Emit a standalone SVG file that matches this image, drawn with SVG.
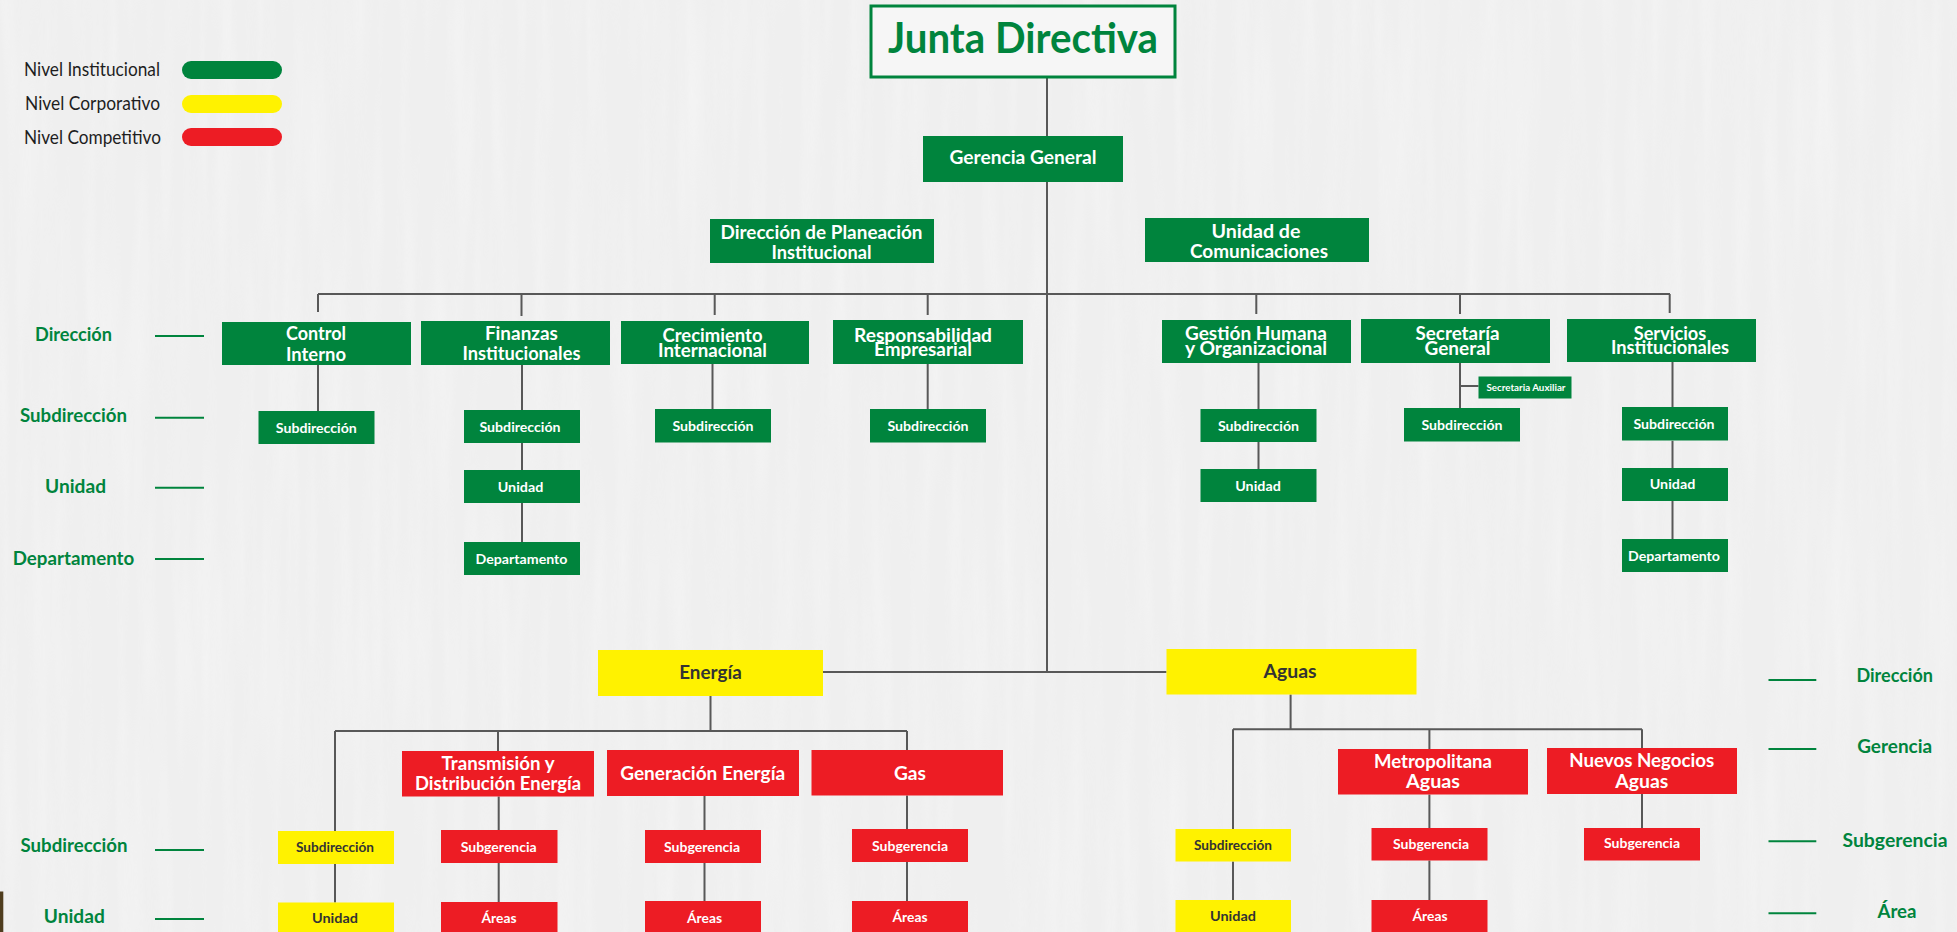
<svg xmlns="http://www.w3.org/2000/svg" width="1957" height="932" viewBox="0 0 1957 932">
  <defs>
    <filter id="paper" x="0" y="0" width="100%" height="100%">
      <feTurbulence type="fractalNoise" baseFrequency="0.06 0.004" numOctaves="3" seed="7" result="n"/>
      <feColorMatrix in="n" type="matrix" values="0 0 0 0 1  0 0 0 0 1  0 0 0 0 1  0 0 0 0.9 -0.35"/>
    </filter>
    <style>
      .bg { fill: #efefef; }
      .ln { stroke: #585858; stroke-width: 2; fill: none; }
      .tick { stroke: #00843d; stroke-width: 2; }
      .g { fill: #00843d; }
      .y { fill: #fff200; }
      .r { fill: #ed1c24; }
      text { font-family: Lato, "Liberation Sans", Arial, sans-serif; font-weight: 700; text-anchor: middle; }
      .w { fill: #ffffff; }
      .k { fill: #333333; }
      .t18 { font-size: 18.5px; }
      .t14 { font-size: 14px; }
      .lab { fill: #00843d; font-size: 18px; }
      .leg { fill: #1e1e1e; font-size: 19px; font-weight: 400; text-anchor: start; }
    </style>
  </defs>

  <!-- paper background -->
  <rect class="bg" x="0" y="0" width="1957" height="932"/>
  <rect x="0" y="0" width="1957" height="932" filter="url(#paper)" opacity="0.55"/>
  <rect x="0" y="891.5" width="3.3" height="41" fill="#4f3d1e"/>

  <!-- legend -->
  <g id="legend">
    <text class="leg" x="24" y="76" textLength="136" lengthAdjust="spacingAndGlyphs">Nivel Institucional</text>
    <text class="leg" x="25" y="110" textLength="135" lengthAdjust="spacingAndGlyphs">Nivel Corporativo</text>
    <text class="leg" x="24" y="144" textLength="137" lengthAdjust="spacingAndGlyphs">Nivel Competitivo</text>
    <rect class="g" x="182" y="61" width="100" height="18" rx="9"/>
    <rect class="y" x="182" y="95" width="100" height="18" rx="9"/>
    <rect class="r" x="182" y="128" width="100" height="18" rx="9"/>
  </g>

  <!-- level scales -->
  <g id="scale-left">
    <text class="lab" x="73.5" y="340.7" textLength="77" lengthAdjust="spacingAndGlyphs">Dirección</text>
    <text class="lab" x="73.5" y="421.7" textLength="107" lengthAdjust="spacingAndGlyphs">Subdirección</text>
    <text class="lab" x="75.5" y="492.7" textLength="61" lengthAdjust="spacingAndGlyphs">Unidad</text>
    <text class="lab" x="73.5" y="565" textLength="121.5" lengthAdjust="spacingAndGlyphs">Departamento</text>
    <text class="lab" x="74" y="852.3" textLength="107" lengthAdjust="spacingAndGlyphs">Subdirección</text>
    <text class="lab" x="74.3" y="923.3" textLength="61" lengthAdjust="spacingAndGlyphs">Unidad</text>
    <line class="tick" x1="155" y1="336" x2="204" y2="336"/>
    <line class="tick" x1="155" y1="417.7" x2="204" y2="417.7"/>
    <line class="tick" x1="155" y1="487.7" x2="204" y2="487.7"/>
    <line class="tick" x1="155" y1="559" x2="204" y2="559"/>
    <line class="tick" x1="155" y1="850" x2="204" y2="850"/>
    <line class="tick" x1="155" y1="919" x2="204" y2="919"/>
  </g>
  <g id="scale-right">
    <line class="tick" x1="1768.5" y1="680" x2="1816.3" y2="680"/>
    <line class="tick" x1="1768.5" y1="749" x2="1816.3" y2="749"/>
    <line class="tick" x1="1768.5" y1="841.3" x2="1816.3" y2="841.3"/>
    <line class="tick" x1="1768.5" y1="913.3" x2="1816.3" y2="913.3"/>
    <text class="lab" x="1894.7" y="682.3" textLength="76.6" lengthAdjust="spacingAndGlyphs">Dirección</text>
    <text class="lab" x="1894.7" y="753.3" textLength="75" lengthAdjust="spacingAndGlyphs">Gerencia</text>
    <text class="lab" x="1895" y="846.7" textLength="105" lengthAdjust="spacingAndGlyphs">Subgerencia</text>
    <text class="lab" x="1897" y="918.3" textLength="39" lengthAdjust="spacingAndGlyphs">Área</text>
  </g>

  <!-- connectors -->
  <g id="connectors">
    <!-- trunk -->
    <path class="ln" d="M1047 77 V672"/>
    <path class="ln" d="M823 672 H1166.5"/>
    <!-- institutional bus -->
    <path class="ln" d="M318 294 H1670"/>
    <path class="ln" d="M318 294 V312 M521.5 294 V316 M714.7 294 V315 M927.7 294 V315 M1256.3 294 V314 M1460 294 V314 M1669.7 294 V313"/>
    <path class="ln" d="M318 365 V411"/>
    <path class="ln" d="M522 365 V410 M522 443 V470 M522 503 V542"/>
    <path class="ln" d="M712.5 364 V409"/>
    <path class="ln" d="M927.7 364 V409"/>
    <path class="ln" d="M1258.5 363 V409 M1258.5 442 V469"/>
    <path class="ln" d="M1460 363 V408 M1460 386 H1478.5"/>
    <path class="ln" d="M1672.5 362 V407 M1672.5 440.7 V468 M1672.5 501 V539"/>
    <!-- energy -->
    <path class="ln" d="M710.5 696 V731 M335 731 H907"/>
    <path class="ln" d="M335 731 V831 M498 731 V751 M907 731 V750"/>
    <path class="ln" d="M335 864 V902.5"/>
    <path class="ln" d="M498.7 796.5 V830 M498.7 863 V902"/>
    <path class="ln" d="M704.5 796 V830 M704.5 863 V901"/>
    <path class="ln" d="M907 795.5 V829 M907 862 V901"/>
    <!-- water -->
    <path class="ln" d="M1290.6 694.5 V729.3 M1233 729.3 H1642"/>
    <path class="ln" d="M1233 729.3 V829 M1429.4 729.3 V749 M1642 729.3 V748"/>
    <path class="ln" d="M1233 861.5 V900"/>
    <path class="ln" d="M1429.4 794.5 V828 M1429.4 860.5 V900"/>
    <path class="ln" d="M1642 794 V828"/>
  </g>

  <!-- institutional level -->
  <g id="junta-directiva">
    <rect x="871" y="6" width="304" height="71" fill="#f6f6f6" stroke="#00843d" stroke-width="3"/>
    <text x="1023" y="53" fill="#00843d" font-size="42" textLength="270" lengthAdjust="spacingAndGlyphs">Junta Directiva</text>
  </g>
  <g id="gerencia-general">
    <rect class="g" x="923" y="136" width="200" height="46"/>
    <text class="w t18" x="1023" y="164" textLength="147" lengthAdjust="spacingAndGlyphs">Gerencia General</text>
  </g>
  <g id="direccion-planeacion">
    <rect class="g" x="710" y="219" width="224" height="44"/>
    <text class="w t18" x="821.5" y="239" textLength="202" lengthAdjust="spacingAndGlyphs">Dirección de Planeación</text>
    <text class="w t18" x="821.5" y="259" textLength="100" lengthAdjust="spacingAndGlyphs">Institucional</text>
  </g>
  <g id="unidad-comunicaciones">
    <rect class="g" x="1145" y="218" width="224" height="44"/>
    <text class="w t18" x="1256" y="238" textLength="89" lengthAdjust="spacingAndGlyphs">Unidad de</text>
    <text class="w t18" x="1259" y="258" textLength="138" lengthAdjust="spacingAndGlyphs">Comunicaciones</text>
  </g>

  <g id="control-interno">
    <rect class="g" x="222" y="322" width="189" height="43"/>
    <text class="w t18" x="316" y="340" textLength="60" lengthAdjust="spacingAndGlyphs">Control</text>
    <text class="w t18" x="316" y="361" textLength="60" lengthAdjust="spacingAndGlyphs">Interno</text>
  </g>
  <g id="control-subdireccion">
    <rect class="g" x="258.5" y="411" width="116" height="33"/>
    <text class="w t14" x="316.3" y="432.7" textLength="81" lengthAdjust="spacingAndGlyphs">Subdirección</text>
  </g>

  <g id="finanzas">
    <rect class="g" x="421" y="321" width="189" height="44"/>
    <text class="w t18" x="521.4" y="340" textLength="73" lengthAdjust="spacingAndGlyphs">Finanzas</text>
    <text class="w t18" x="521.4" y="360" textLength="118" lengthAdjust="spacingAndGlyphs">Institucionales</text>
  </g>
  <g id="finanzas-subdireccion">
    <rect class="g" x="464" y="410" width="116" height="33"/>
    <text class="w t14" x="520" y="432.3" textLength="81" lengthAdjust="spacingAndGlyphs">Subdirección</text>
  </g>
  <g id="finanzas-unidad">
    <rect class="g" x="464" y="470" width="116" height="33"/>
    <text class="w t14" x="520.5" y="492.3" textLength="45.5" lengthAdjust="spacingAndGlyphs">Unidad</text>
  </g>
  <g id="finanzas-departamento">
    <rect class="g" x="464" y="542" width="116" height="33"/>
    <text class="w t14" x="521.5" y="564" textLength="92" lengthAdjust="spacingAndGlyphs">Departamento</text>
  </g>

  <g id="crecimiento">
    <rect class="g" x="621" y="321" width="188" height="43"/>
    <text class="w t18" x="712.5" y="341.5" textLength="100" lengthAdjust="spacingAndGlyphs">Crecimiento</text>
    <text class="w t18" x="712.5" y="356.5" textLength="109" lengthAdjust="spacingAndGlyphs">Internacional</text>
  </g>
  <g id="crecimiento-subdireccion">
    <rect class="g" x="655" y="409" width="116" height="33.5"/>
    <text class="w t14" x="713" y="430.7" textLength="81" lengthAdjust="spacingAndGlyphs">Subdirección</text>
  </g>

  <g id="responsabilidad">
    <rect class="g" x="833" y="320" width="190" height="44"/>
    <text class="w t18" x="923" y="341.5" textLength="138" lengthAdjust="spacingAndGlyphs">Responsabilidad</text>
    <text class="w t18" x="923" y="356" textLength="98" lengthAdjust="spacingAndGlyphs">Empresarial</text>
  </g>
  <g id="responsabilidad-subdireccion">
    <rect class="g" x="870" y="409" width="116" height="33.5"/>
    <text class="w t14" x="928" y="431" textLength="81" lengthAdjust="spacingAndGlyphs">Subdirección</text>
  </g>

  <g id="gestion-humana">
    <rect class="g" x="1162" y="320" width="189" height="43"/>
    <text class="w t18" x="1256" y="340" textLength="142" lengthAdjust="spacingAndGlyphs">Gestión Humana</text>
    <text class="w t18" x="1256" y="355" textLength="142" lengthAdjust="spacingAndGlyphs">y Organizacional</text>
  </g>
  <g id="gestion-subdireccion">
    <rect class="g" x="1200.5" y="409" width="116" height="33"/>
    <text class="w t14" x="1258.5" y="431" textLength="81" lengthAdjust="spacingAndGlyphs">Subdirección</text>
  </g>
  <g id="gestion-unidad">
    <rect class="g" x="1200.5" y="469" width="116" height="33"/>
    <text class="w t14" x="1258" y="490.7" textLength="45.5" lengthAdjust="spacingAndGlyphs">Unidad</text>
  </g>

  <g id="secretaria-general">
    <rect class="g" x="1361" y="319" width="189" height="44"/>
    <text class="w t18" x="1457.5" y="340" textLength="84" lengthAdjust="spacingAndGlyphs">Secretaría</text>
    <text class="w t18" x="1457.5" y="355" textLength="66" lengthAdjust="spacingAndGlyphs">General</text>
  </g>
  <g id="secretaria-auxiliar">
    <rect class="g" x="1478.5" y="376.5" width="93" height="22"/>
    <text class="w" x="1526" y="390.5" font-size="9.5" textLength="79" lengthAdjust="spacingAndGlyphs">Secretaria Auxiliar</text>
  </g>
  <g id="secretaria-subdireccion">
    <rect class="g" x="1404" y="408" width="116" height="33.5"/>
    <text class="w t14" x="1462" y="430" textLength="81" lengthAdjust="spacingAndGlyphs">Subdirección</text>
  </g>

  <g id="servicios">
    <rect class="g" x="1567" y="319" width="189" height="43"/>
    <text class="w t18" x="1670" y="339.5" textLength="72.6" lengthAdjust="spacingAndGlyphs">Servicios</text>
    <text class="w t18" x="1670" y="354" textLength="118" lengthAdjust="spacingAndGlyphs">Institucionales</text>
  </g>
  <g id="servicios-subdireccion">
    <rect class="g" x="1622" y="407" width="106" height="33.5"/>
    <text class="w t14" x="1674" y="428.5" textLength="81" lengthAdjust="spacingAndGlyphs">Subdirección</text>
  </g>
  <g id="servicios-unidad">
    <rect class="g" x="1622" y="468" width="106" height="33"/>
    <text class="w t14" x="1672.5" y="489.3" textLength="45.5" lengthAdjust="spacingAndGlyphs">Unidad</text>
  </g>
  <g id="servicios-departamento">
    <rect class="g" x="1622" y="539" width="106" height="33"/>
    <text class="w t14" x="1674" y="560.5" textLength="92" lengthAdjust="spacingAndGlyphs">Departamento</text>
  </g>

  <!-- corporate level -->
  <g id="energia">
    <rect class="y" x="598" y="650" width="225" height="46"/>
    <text class="k t18" x="710.5" y="679" textLength="62.5" lengthAdjust="spacingAndGlyphs">Energía</text>
  </g>
  <g id="aguas">
    <rect class="y" x="1166.5" y="649" width="250" height="45.5"/>
    <text class="k t18" x="1290" y="678" textLength="53" lengthAdjust="spacingAndGlyphs">Aguas</text>
  </g>

  <g id="energia-subdireccion">
    <rect class="y" x="278" y="831" width="116" height="33"/>
    <text class="k t14" x="335" y="852.3" textLength="78" lengthAdjust="spacingAndGlyphs">Subdirección</text>
  </g>
  <g id="energia-unidad">
    <rect class="y" x="278" y="902.5" width="116" height="40"/>
    <text class="k t14" x="335" y="923.3" textLength="46" lengthAdjust="spacingAndGlyphs">Unidad</text>
  </g>
  <g id="aguas-subdireccion">
    <rect class="y" x="1175.5" y="829" width="115.5" height="32.5"/>
    <text class="k t14" x="1233" y="849.5" textLength="78" lengthAdjust="spacingAndGlyphs">Subdirección</text>
  </g>
  <g id="aguas-unidad">
    <rect class="y" x="1175.5" y="900" width="115.5" height="40"/>
    <text class="k t14" x="1233" y="921" textLength="46" lengthAdjust="spacingAndGlyphs">Unidad</text>
  </g>

  <!-- competitive level -->
  <g id="transmision">
    <rect class="r" x="402" y="751" width="192" height="45.5"/>
    <text class="w t18" x="498" y="770" textLength="113" lengthAdjust="spacingAndGlyphs">Transmisión y</text>
    <text class="w t18" x="498" y="790" textLength="166" lengthAdjust="spacingAndGlyphs">Distribución Energía</text>
  </g>
  <g id="transmision-subgerencia">
    <rect class="r" x="441" y="830" width="116.5" height="33"/>
    <text class="w t14" x="498.7" y="851.7" textLength="76" lengthAdjust="spacingAndGlyphs">Subgerencia</text>
  </g>
  <g id="transmision-areas">
    <rect class="r" x="441" y="902" width="116.5" height="40"/>
    <text class="w t14" x="499" y="923.3" textLength="35" lengthAdjust="spacingAndGlyphs">Áreas</text>
  </g>

  <g id="generacion">
    <rect class="r" x="607" y="750" width="192" height="46"/>
    <text class="w t18" x="702.7" y="779.5" textLength="165" lengthAdjust="spacingAndGlyphs">Generación Energía</text>
  </g>
  <g id="generacion-subgerencia">
    <rect class="r" x="645" y="830" width="116" height="33"/>
    <text class="w t14" x="702" y="851.5" textLength="76" lengthAdjust="spacingAndGlyphs">Subgerencia</text>
  </g>
  <g id="generacion-areas">
    <rect class="r" x="645" y="901" width="116" height="40"/>
    <text class="w t14" x="704.5" y="922.5" textLength="35" lengthAdjust="spacingAndGlyphs">Áreas</text>
  </g>

  <g id="gas">
    <rect class="r" x="811.5" y="750" width="191.5" height="45.5"/>
    <text class="w t18" x="910" y="780" textLength="32" lengthAdjust="spacingAndGlyphs">Gas</text>
  </g>
  <g id="gas-subgerencia">
    <rect class="r" x="852" y="829" width="116" height="33"/>
    <text class="w t14" x="910" y="851" textLength="76" lengthAdjust="spacingAndGlyphs">Subgerencia</text>
  </g>
  <g id="gas-areas">
    <rect class="r" x="852" y="901" width="116" height="40"/>
    <text class="w t14" x="910" y="922" textLength="35" lengthAdjust="spacingAndGlyphs">Áreas</text>
  </g>

  <g id="metropolitana">
    <rect class="r" x="1338" y="749" width="190" height="45.5"/>
    <text class="w t18" x="1433" y="767.5" textLength="118" lengthAdjust="spacingAndGlyphs">Metropolitana</text>
    <text class="w t18" x="1433" y="787.5" textLength="54" lengthAdjust="spacingAndGlyphs">Aguas</text>
  </g>
  <g id="metropolitana-subgerencia">
    <rect class="r" x="1371.5" y="828" width="116" height="32.5"/>
    <text class="w t14" x="1431" y="848.7" textLength="76" lengthAdjust="spacingAndGlyphs">Subgerencia</text>
  </g>
  <g id="metropolitana-areas">
    <rect class="r" x="1371.5" y="900" width="116" height="40"/>
    <text class="w t14" x="1430" y="920.5" textLength="35" lengthAdjust="spacingAndGlyphs">Áreas</text>
  </g>

  <g id="nuevos-negocios">
    <rect class="r" x="1547" y="748" width="190" height="46"/>
    <text class="w t18" x="1641.8" y="766.7" textLength="145" lengthAdjust="spacingAndGlyphs">Nuevos Negocios</text>
    <text class="w t18" x="1641.8" y="787.7" textLength="53" lengthAdjust="spacingAndGlyphs">Aguas</text>
  </g>
  <g id="nuevos-negocios-subgerencia">
    <rect class="r" x="1584" y="828" width="116" height="32.5"/>
    <text class="w t14" x="1642" y="848" textLength="76" lengthAdjust="spacingAndGlyphs">Subgerencia</text>
  </g>
</svg>
